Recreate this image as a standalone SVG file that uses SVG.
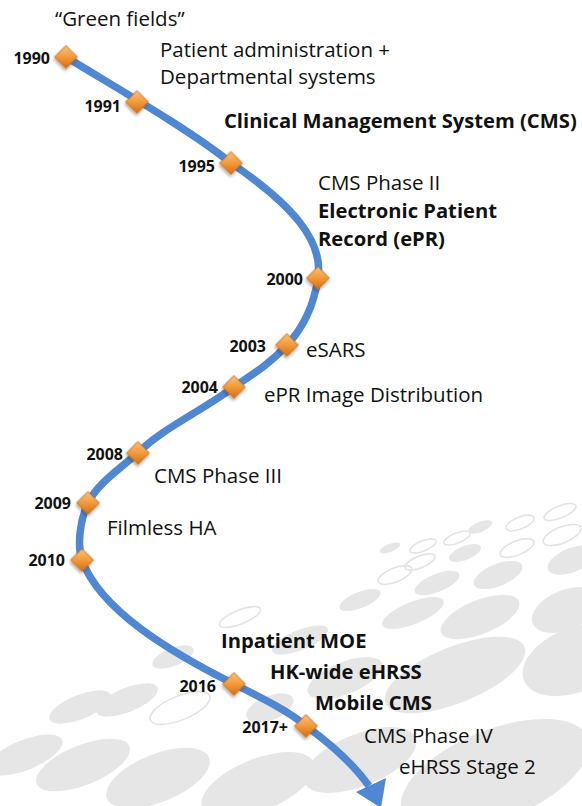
<svg xmlns="http://www.w3.org/2000/svg" width="582" height="806" viewBox="0 0 582 806">
<defs>
<linearGradient id="dg" x1="0" y1="0" x2="1" y2="1">
<stop offset="0" stop-color="#fbc37a"/>
<stop offset="0.5" stop-color="#f39a3a"/>
<stop offset="1" stop-color="#d46d14"/>
</linearGradient>
<filter id="sh" x="-50%" y="-50%" width="200%" height="200%">
<feDropShadow dx="1" dy="2" stdDeviation="1.5" flood-color="#000" flood-opacity="0.35"/>
</filter>
</defs>
<style>
.bgf{fill:#e6e6e6}
.bgo{fill:none;stroke:#e3e3e3;stroke-width:1.6}
.t{font-family:"Open Sans","Liberation Sans",sans-serif;font-size:20.5px;fill:#111}
.b{font-family:"Open Sans","Liberation Sans",sans-serif;font-size:20.2px;font-weight:bold;fill:#111}
.y{font-family:"Open Sans","Liberation Sans",sans-serif;font-size:16px;font-weight:bold;fill:#111;text-anchor:end}
.d{fill:url(#dg);stroke:#c8701c;stroke-width:0.8;filter:url(#sh)}
.ln{fill:none;stroke:#4f87d3;stroke-width:7.5;stroke-linecap:butt}
</style>
<rect width="582" height="806" fill="#fff"/>
<g id="background">
<ellipse class="bgo" cx="560" cy="512" rx="17" ry="6" transform="rotate(-22 560 512)"/>
<ellipse class="bgo" cx="520" cy="523" rx="15" ry="6" transform="rotate(-22 520 523)"/>
<ellipse class="bgo" cx="457" cy="538" rx="14" ry="5" transform="rotate(-22 457 538)"/>
<ellipse class="bgo" cx="423" cy="546" rx="14" ry="5" transform="rotate(-22 423 546)"/>
<ellipse class="bgo" cx="517" cy="548" rx="18" ry="7" transform="rotate(-22 517 548)"/>
<ellipse class="bgo" cx="562" cy="535" rx="20" ry="8" transform="rotate(-22 562 535)"/>
<ellipse class="bgo" cx="420" cy="562" rx="16" ry="6" transform="rotate(-22 420 562)"/>
<ellipse class="bgo" cx="395" cy="575" rx="18" ry="7" transform="rotate(-22 395 575)"/>
<ellipse class="bgo" cx="240" cy="617" rx="22" ry="7" transform="rotate(-22 240 617)"/>
<ellipse class="bgo" cx="180" cy="708" rx="32" ry="12" transform="rotate(-22 180 708)"/>
<ellipse class="bgf" cx="480" cy="527" rx="13" ry="5" transform="rotate(-22 480 527)"/>
<ellipse class="bgf" cx="390" cy="548" rx="11" ry="4" transform="rotate(-22 390 548)"/>
<ellipse class="bgf" cx="465" cy="553" rx="17" ry="7" transform="rotate(-22 465 553)"/>
<ellipse class="bgf" cx="437" cy="583" rx="24" ry="9" transform="rotate(-22 437 583)"/>
<ellipse class="bgf" cx="498" cy="575" rx="26" ry="11" transform="rotate(-22 498 575)"/>
<ellipse class="bgf" cx="572" cy="560" rx="26" ry="12" transform="rotate(-22 572 560)"/>
<ellipse class="bgf" cx="413" cy="613" rx="33" ry="11" transform="rotate(-22 413 613)"/>
<ellipse class="bgf" cx="480" cy="617" rx="42" ry="17" transform="rotate(-22 480 617)"/>
<ellipse class="bgf" cx="566" cy="610" rx="36" ry="20" transform="rotate(-22 566 610)"/>
<ellipse class="bgf" cx="360" cy="600" rx="22" ry="8" transform="rotate(-22 360 600)"/>
<ellipse class="bgf" cx="300" cy="640" rx="30" ry="10" transform="rotate(-22 300 640)"/>
<ellipse class="bgf" cx="173" cy="657" rx="22" ry="9" transform="rotate(-22 173 657)"/>
<ellipse class="bgf" cx="80" cy="707" rx="33" ry="12" transform="rotate(-22 80 707)"/>
<ellipse class="bgf" cx="127" cy="700" rx="33" ry="12" transform="rotate(-22 127 700)"/>
<ellipse class="bgf" cx="270" cy="708" rx="25" ry="12" transform="rotate(-22 270 708)"/>
<ellipse class="bgf" cx="345" cy="678" rx="40" ry="16" transform="rotate(-22 345 678)"/>
<ellipse class="bgf" cx="455" cy="675" rx="75" ry="28" transform="rotate(-22 455 675)"/>
<ellipse class="bgf" cx="575" cy="660" rx="55" ry="32" transform="rotate(-22 575 660)"/>
<ellipse class="bgf" cx="25" cy="755" rx="40" ry="15" transform="rotate(-22 25 755)"/>
<ellipse class="bgf" cx="83" cy="765" rx="50" ry="20" transform="rotate(-22 83 765)"/>
<ellipse class="bgf" cx="158" cy="778" rx="55" ry="24" transform="rotate(-22 158 778)"/>
<ellipse class="bgf" cx="258" cy="785" rx="60" ry="26" transform="rotate(-22 258 785)"/>
<ellipse class="bgf" cx="360" cy="760" rx="60" ry="26" transform="rotate(-22 360 760)"/>
<ellipse class="bgf" cx="495" cy="775" rx="100" ry="45" transform="rotate(-22 495 775)"/>
</g>
<g id="connectors">
<path class="ln" d="M66,57 C120,90 190,130 231,163 C290,203 324,240 318,278 C314,305 303,328 287,345 C270,364 250,376 234,387 C200,412 160,430 138,453 C115,472 96,486 88,503 C80,520 77,545 82,560 C100,610 170,652 234,684 C262,698 290,712 306,726 C328,742 352,762 369,786"/>
<polygon points="356,792 386,778 381,808" fill="#4f87d3"/>
</g>
<g id="labels">
<text class="t" x="55" y="26">“Green fields”</text>
<text class="t" x="160" y="57">Patient administration +</text>
<text class="t" x="160" y="84">Departmental systems</text>
<text class="b" x="224" y="128">Clinical Management System (CMS)</text>
<text class="t" x="318" y="190">CMS Phase II</text>
<text class="b" x="318" y="218">Electronic Patient</text>
<text class="b" x="318" y="246">Record (ePR)</text>
<text class="t" x="306" y="357">eSARS</text>
<text class="t" x="264" y="402">ePR Image Distribution</text>
<text class="t" x="154" y="483">CMS Phase III</text>
<text class="t" x="107" y="535">Filmless HA</text>
<text class="b" x="221" y="648">Inpatient MOE</text>
<text class="b" x="270" y="679">HK-wide eHRSS</text>
<text class="b" x="315" y="710">Mobile CMS</text>
<text class="t" x="364" y="743">CMS Phase IV</text>
<text class="t" x="399" y="774">eHRSS Stage 2</text>
</g>
<g id="m1990"><rect class="d" x="-8" y="-8" width="16" height="16" transform="translate(66,57) rotate(45)"/><text class="y" x="50" y="64">1990</text></g>
<g id="m1991"><rect class="d" x="-8" y="-8" width="16" height="16" transform="translate(137,102) rotate(45)"/><text class="y" x="121" y="112">1991</text></g>
<g id="m1995"><rect class="d" x="-8" y="-8" width="16" height="16" transform="translate(231,163) rotate(45)"/><text class="y" x="215" y="172">1995</text></g>
<g id="m2000"><rect class="d" x="-8" y="-8" width="16" height="16" transform="translate(318,278) rotate(45)"/><text class="y" x="303" y="285">2000</text></g>
<g id="m2003"><rect class="d" x="-8" y="-8" width="16" height="16" transform="translate(287,345) rotate(45)"/><text class="y" x="266" y="352">2003</text></g>
<g id="m2004"><rect class="d" x="-8" y="-8" width="16" height="16" transform="translate(234,387) rotate(45)"/><text class="y" x="218" y="393">2004</text></g>
<g id="m2008"><rect class="d" x="-8" y="-8" width="16" height="16" transform="translate(138,453) rotate(45)"/><text class="y" x="123" y="460">2008</text></g>
<g id="m2009"><rect class="d" x="-8" y="-8" width="16" height="16" transform="translate(88,503) rotate(45)"/><text class="y" x="71" y="509">2009</text></g>
<g id="m2010"><rect class="d" x="-8" y="-8" width="16" height="16" transform="translate(82,560) rotate(45)"/><text class="y" x="65" y="566">2010</text></g>
<g id="m2016"><rect class="d" x="-8" y="-8" width="16" height="16" transform="translate(234,684) rotate(45)"/><text class="y" x="216" y="692">2016</text></g>
<g id="m2017"><rect class="d" x="-8" y="-8" width="16" height="16" transform="translate(306,726) rotate(45)"/><text class="y" x="288" y="733">2017+</text></g>
</svg>
